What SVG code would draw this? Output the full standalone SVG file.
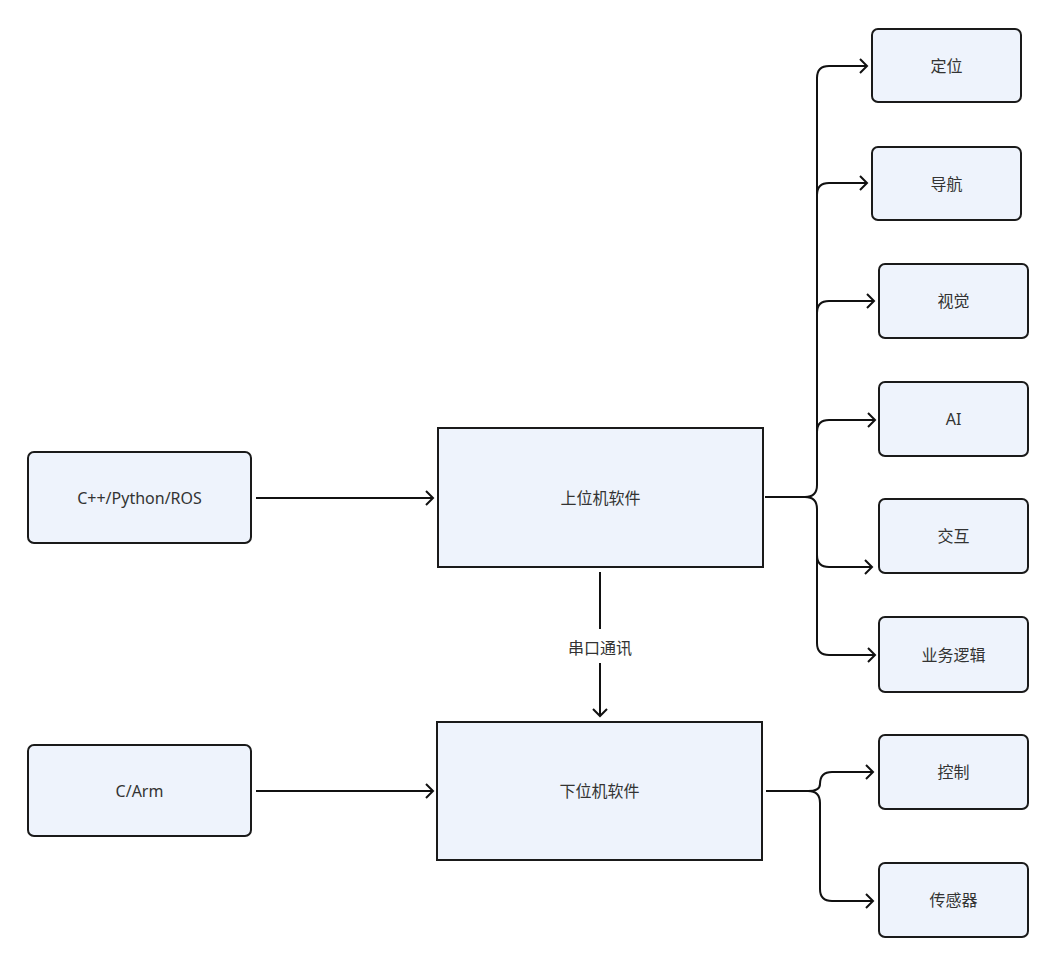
<svg xmlns="http://www.w3.org/2000/svg" width="1057" height="965" viewBox="0 0 1057 965">
<style>
.box{fill:#eef3fc;stroke:#1a1a1a;stroke-width:2}
.lbl{font-family:"Noto Sans","Noto Sans CJK SC",sans-serif;font-size:16px;fill:#333;text-anchor:middle;dominant-baseline:central}
.ln{fill:none;stroke:#111;stroke-width:2;marker-end:url(#ah)}
.pl{fill:none;stroke:#111;stroke-width:2}
</style>
<defs>
<marker id="ah" markerUnits="userSpaceOnUse" markerWidth="14" markerHeight="18" refX="8" refY="8" orient="auto">
<path d="M1,1 L8,8 L1,15" fill="none" stroke="#111" stroke-width="2"/>
</marker>
</defs>
<rect width="1057" height="965" fill="#fff"/>
<g id="connectors">
<path class="ln" d="M256,498 L433,498"/>
<path class="ln" d="M256,791 L433,791"/>
<path class="pl" d="M600,572 L600,629"/>
<text class="lbl" x="600" y="648">串口通讯</text>
<path class="ln" d="M600,663 L600,716"/>
<path class="pl" d="M765,497 L805,497 Q817,497 817,485 L817,78"/>
<path class="ln" d="M817,78 Q817,66 829,66 L867,66"/>
<path class="ln" d="M817,195 Q817,183 829,183 L867,183"/>
<path class="ln" d="M817,313 Q817,301 829,301 L874,301"/>
<path class="ln" d="M817,432 Q817,420 829,420 L875,420"/>
<path class="ln" d="M805,497 Q817,497 817,509 L817,555 Q817,567 829,567 L872,567"/>
<path class="ln" d="M817,555 L817,643 Q817,655 829,655 L875,655"/>
<path class="pl" d="M766,791 L808,791 Q820,791 820,784"/>
<path class="ln" d="M820,784 Q820,772 832,772 L873,772"/>
<path class="ln" d="M808,791 Q820,791 820,803 L820,889 Q820,901 832,901 L873,901"/>
</g>
<g id="n-cpp"><rect class="box" x="28" y="452" width="223" height="91" rx="6"/><text class="lbl" x="139.5" y="497.5">C++/Python/ROS</text></g>
<g id="n-carm"><rect class="box" x="28" y="745" width="223" height="91" rx="6"/><text class="lbl" x="139.5" y="790.5">C/Arm</text></g>
<g id="n-upper"><rect class="box" x="438" y="428" width="325" height="139"/><text class="lbl" x="600.5" y="497.5">上位机软件</text></g>
<g id="n-lower"><rect class="box" x="437" y="722" width="325" height="138"/><text class="lbl" x="599.5" y="791">下位机软件</text></g>
<g id="n-dingwei"><rect class="box" x="872" y="29" width="149" height="73" rx="6"/><text class="lbl" x="946.5" y="65.5">定位</text></g>
<g id="n-daohang"><rect class="box" x="872" y="147" width="149" height="73" rx="6"/><text class="lbl" x="946.5" y="183.5">导航</text></g>
<g id="n-shijue"><rect class="box" x="879" y="264" width="149" height="74" rx="6"/><text class="lbl" x="953.5" y="301">视觉</text></g>
<g id="n-ai"><rect class="box" x="879" y="382" width="149" height="74" rx="6"/><text class="lbl" x="953.5" y="419">AI</text></g>
<g id="n-jiaohu"><rect class="box" x="879" y="499" width="149" height="74" rx="6"/><text class="lbl" x="953.5" y="536">交互</text></g>
<g id="n-yewu"><rect class="box" x="879" y="617" width="149" height="75" rx="6"/><text class="lbl" x="953.5" y="654.5">业务逻辑</text></g>
<g id="n-kongzhi"><rect class="box" x="879" y="735" width="149" height="74" rx="6"/><text class="lbl" x="953.5" y="772">控制</text></g>
<g id="n-chuanganqi"><rect class="box" x="879" y="863" width="149" height="74" rx="6"/><text class="lbl" x="953.5" y="900">传感器</text></g>
</svg>
